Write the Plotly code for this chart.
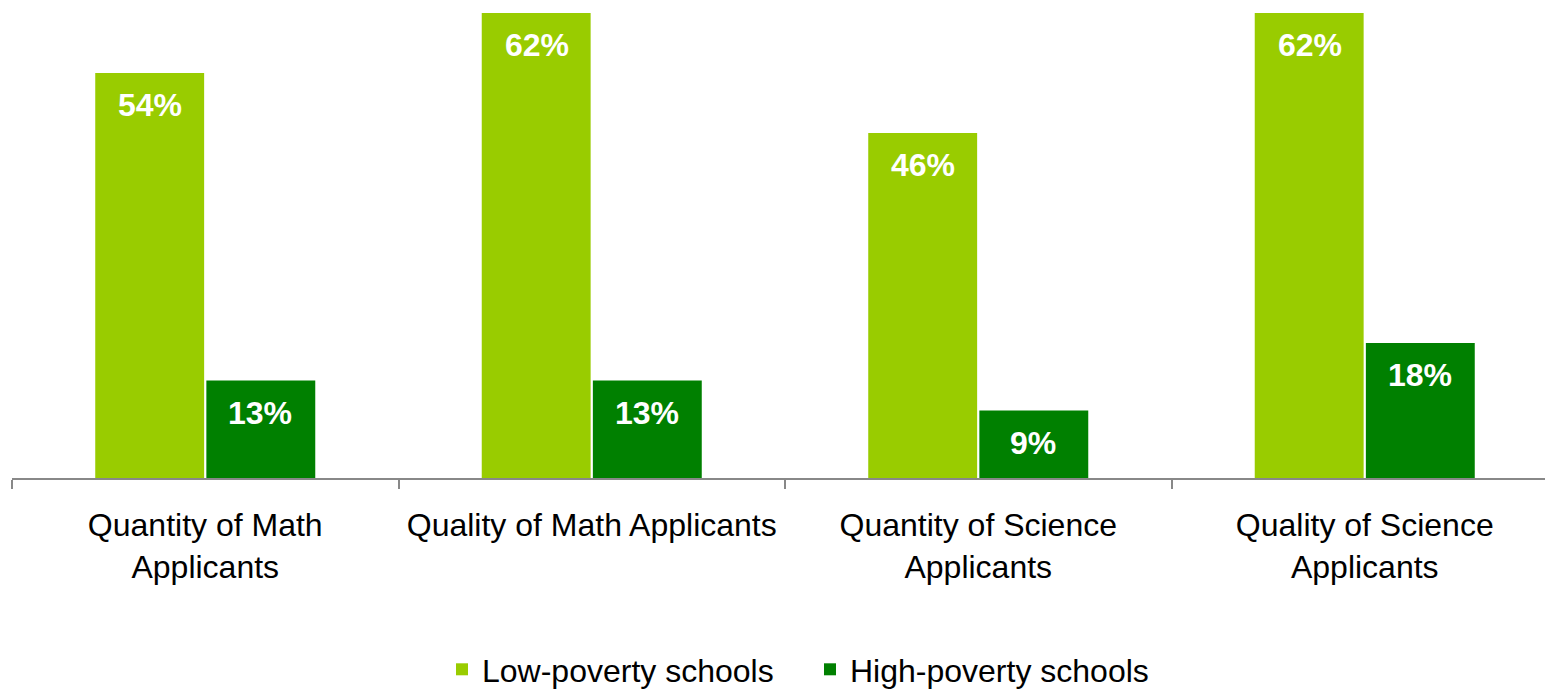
import plotly.graph_objects as go

categories = ["Quantity of Math<br>Applicants", "Quality of Math Applicants",
              "Quantity of Science<br>Applicants", "Quality of Science<br>Applicants"]
low_poverty = [54, 62, 46, 62]
high_poverty = [13, 13, 9, 18]
series_names = ["Low-poverty schools", "High-poverty schools"]
colors = ["#99CC00", "#008000"]

FONT = "Liberation Sans, Arial, sans-serif"

fig = go.Figure()
for name, vals, col in zip(series_names, [low_poverty, high_poverty], colors):
    fig.add_trace(go.Bar(x=categories, y=vals, name=name, marker_color=col,
                         marker_line_width=0))

# data labels inside bar tops
for j, vals in enumerate([low_poverty, high_poverty]):
    for c, v in zip(categories, vals):
        fig.add_annotation(x=c, y=v, text=f"<b>{v}%</b>", showarrow=False,
                           xshift=(-55 if j == 0 else 55), yshift=-32,
                           font=dict(family=FONT, size=32, color="white"))

W, H = 1545, 690
ml, mt, mb = 12, 13, 212
cat_px = 386.5
plot_w = W - ml
fig.update_layout(
    width=W, height=H,
    margin=dict(l=ml, r=0, t=mt, b=mb, autoexpand=False),
    plot_bgcolor="white", paper_bgcolor="white",
    barmode="group", bargap=0.425, bargroupgap=0.02,
    showlegend=True,
    legend=dict(orientation="h", x=(442 - ml) / plot_w, xanchor="left",
                y=(478 - 697) / 465, yanchor="bottom",
                font=dict(family=FONT, size=32, color="black"),
                entrywidth=323, entrywidthmode="pixels",
                traceorder="normal"),
    font=dict(family=FONT, size=32, color="black"),
)
fig.update_xaxes(
    type="category",
    range=[-0.5, -0.5 + plot_w / cat_px],
    showline=True, linecolor="#888888", linewidth=2,
    ticks="outside", ticklen=9, tickcolor="#888888", tickwidth=2,
    tickson="boundaries", showgrid=False, ticklabelstandoff=18,
    tickfont=dict(family=FONT, size=32, color="black"),
)
fig.update_yaxes(range=[0, 62], visible=False, showgrid=False)

fig.write_html("out.html")
